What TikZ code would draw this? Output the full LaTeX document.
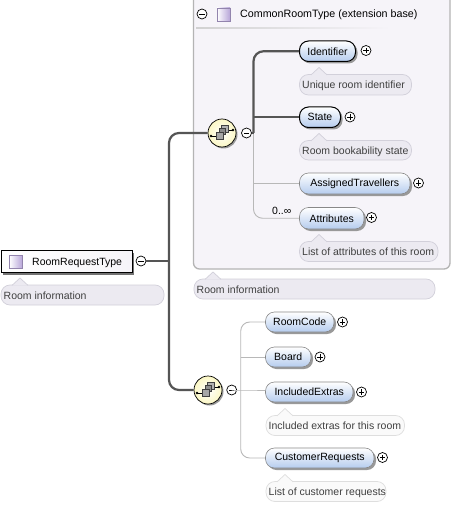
\documentclass[tikz,border=0pt]{standalone}
\usepackage{fontspec}
\setmainfont{Liberation Sans}
\usetikzlibrary{calc}
\definecolor{thinline}{HTML}{B8B8B8}
\definecolor{thickline}{HTML}{555555}
\definecolor{basefill}{HTML}{F6F4F9}
\definecolor{baseedge}{HTML}{B4B4B4}
\definecolor{notefill}{HTML}{ECEAF1}
\definecolor{noteline}{HTML}{D2D0DA}
\definecolor{lightfill}{HTML}{FAFAFA}
\definecolor{lightline}{HTML}{DEDEDE}
\definecolor{elemblue}{HTML}{B5CCEE}
\definecolor{shadowc}{HTML}{999999}
\definecolor{seqfill}{HTML}{FBF7C4}
\definecolor{iconlo}{HTML}{B7A5D8}
\tikzset{
  x=1pt,y=-1pt,
  txt/.style={font=\fontsize{10.5}{13}\selectfont,text=black},
  titletxt/.style={font=\fontsize{10.7}{13}\selectfont,text=black},
  notetxt/.style={font=\fontsize{10.5}{12}\selectfont,text=black!75},
  elembox/.style={rounded corners=9pt,draw=thickline!70,line width=0.6pt,top color=white,bottom color=elemblue,inner sep=0pt,txt},
  strongbox/.style={elembox,draw=black,line width=1pt},
  plainnote/.style={fill=notefill,draw=noteline},
  paleNote/.style={fill=lightfill,draw=lightline},
  circ/.style={circle,draw=black,fill=white,line width=0.7pt,minimum size=10pt,inner sep=0pt},
  thinconn/.style={draw=thinline,line width=0.9pt,rounded corners=9pt},
  thickconn/.style={draw=thickline,line width=2.2pt,rounded corners=10pt},
}
% #1 style, #2 name, #3 x1, #4 y1, #5 x2, #6 y2, #7 text
\newcommand{\elemnode}[7][elembox]{%
  \fill[shadowc,rounded corners=9pt] (#3+2,#4+2) rectangle (#5+2,#6+2);
  \path let \p1=($(#5,#6)-(#3,#4)$) in
    node[#1,minimum width=\x1,minimum height=-\y1] (#2) at ({(#3+#5)/2},{(#4+#6)/2}) {\raisebox{-0.5pt}{#7}};
}
% #1 style, #2 name, #3 x1, #4 y1, #5 x2, #6 y2, #7 tip x, #8 text
\newcommand{\notenode}[8][plainnote]{%
  \draw[#1,line width=0.7pt,rounded corners=9pt] (#3,#4) rectangle (#5,#6);
  \draw[#1,line width=0.7pt,line join=round] (#7-8,#4+0.4) -- (#7,#4-7) -- (#7+8,#4+0.4);
  \fill[#1,draw=none] (#7-7.4,#4+1) rectangle (#7+7.4,#4+1.5);
  \node[notetxt,anchor=base west,inner sep=0pt] (#2) at (#3+2.5,{(#4+#6)/2+4}) {#8};
}
\newcommand{\minusnode}[3]{%
  \node[circ] (#1) at (#2,#3) {};
  \draw[black,line width=0.8pt] (#2-2.6,#3) -- (#2+2.6,#3);
}
\newcommand{\plusnode}[3]{%
  \node[circ] (#1) at (#2,#3) {};
  \draw[black,line width=0.8pt] (#2-2.6,#3) -- (#2+2.6,#3) (#2,#3-2.6) -- (#2,#3+2.6);
}
\newcommand{\iconnode}[5]{%
  \node[draw=iconlo!80!black,line width=0.5pt,left color=white,right color=iconlo,minimum width=#4,minimum height=#5,inner sep=0pt] (#1) at (#2,#3) {};
}
\newcommand{\seqnode}[3]{%
  \fill[shadowc] (#2+1.5,#3+1.5) circle (14);
  \node[circle,draw=black,line width=0.7pt,inner color=white,outer color=seqfill,minimum size=28pt,inner sep=0pt] (#1) at (#2,#3) {};
  \begin{scope}[shift={(#2,#3)}]
    \draw[black,line width=0.9pt] (-11,3) -- (-4,3) (4,-3) -- (11,-3);
    \fill[black] (-11,3) circle (1.3) (11,-3) circle (1.3);
    \draw[black!75,fill=black!30,line width=0.5pt] (-1,-8) rectangle (6,-1);
    \draw[black!75,fill=black!45,line width=0.5pt] (-3,-5) rectangle (3,1);
    \draw[black!75,fill=black!35,line width=0.5pt] (-6,-1) rectangle (1,6);
  \end{scope}
}
\begin{document}
\begin{tikzpicture}
\useasboundingbox (0,0) rectangle (453,505);
\fill[white] (0,0) rectangle (453,505);
% extension base box
\draw[baseedge,fill=basefill,line width=1.3pt,rounded corners=6pt] (193.5,-8) -- (450,-8) -- (450,269) -- (193.5,269) -- cycle;
\fill[left color=black!18,right color=basefill] (196,27.5) rectangle (390,29);
\minusnode{baseminus}{202}{14}
\iconnode{baseicon}{223.5}{14.5}{13pt}{13pt}
\node[titletxt,anchor=base west,inner sep=0pt] (basetitle) at (240,18) {CommonRoomType (extension base)};
% connector anchors
\coordinate (jtop) at (253.5,133);
\coordinate (jtrunk) at (169,261);
\coordinate (jbot) at (240.7,390);
% notes
\notenode{notebase}{194}{279}{435}{299}{213}{Room information}
\notenode{noteroot}{1}{285}{164}{305}{20}{Room information}
\notenode{noteid}{299.5}{74.5}{411.5}{95}{319}{Unique room identifier}
\notenode{notestate}{299.5}{140.5}{411.5}{160}{319}{Room bookability state}
\notenode{noteattr}{299.5}{241.5}{438}{261.5}{319}{List of attributes of this room}
\notenode[paleNote]{noteextras}{266}{415.5}{404.5}{435.5}{285}{Included extras for this room}
\notenode[paleNote]{notecust}{266}{481.5}{386}{501.5}{285}{List of customer requests}
% elements
\elemnode[strongbox]{identifier}{299.5}{41}{355.5}{61.5}{Identifier}
\elemnode[strongbox]{state}{299.5}{107}{340.5}{127.5}{State}
\elemnode{assigned}{299.5}{173}{410}{194}{AssignedTravellers}
\elemnode{attributes}{299.5}{207.5}{364}{229}{Attributes}
\elemnode{roomcode}{265.5}{312}{334}{332}{RoomCode}
\elemnode{board}{265.5}{347}{311}{367}{Board}
\elemnode{extras}{265.5}{382}{353}{402}{IncludedExtras}
\elemnode{customer}{265.5}{448}{374}{468}{CustomerRequests}
% root
\fill[black!55] (3,252.5) rectangle (134,274.5);
\node[draw=black,line width=1pt,left color=white,right color=basefill,minimum width=131pt,minimum height=22.5pt,inner sep=0pt] (root) at (66.5,261.3) {};
\iconnode{rooticon}{15.7}{261.5}{13pt}{13pt}
\node[txt,anchor=base west,inner sep=0pt] (roottext) at (32,265.5) {RoomRequestType};
% plus / minus
\minusnode{rootminus}{141}{261}
\minusnode{seqoneminus}{246.5}{133}
\minusnode{seqtwominus}{231.7}{390}
\plusnode{plusid}{366}{50.5}
\plusnode{plusstate}{350}{117}
\plusnode{plusassigned}{418.5}{183}
\plusnode{plusattr}{371.5}{217.5}
\plusnode{pluscode}{342.5}{322}
\plusnode{plusboard}{320}{357}
\plusnode{plusextras}{361.5}{392}
\plusnode{pluscust}{382.5}{457.5}
% sequence compositors
\seqnode{seqone}{222}{133}
\seqnode{seqtwo}{208}{390}
% connectors
\draw[thinconn] (jtop) |- (attributes.west);
\draw[thinconn] (jtop |- assigned.west) -- (assigned.west);
\draw[thinconn] (roomcode.west) -| (jbot |- extras.west) |- (customer.west);
\draw[thinconn] (seqtwominus.east) -- (jbot) -- (jbot -| extras.west);
\draw[thinconn] (jbot |- board.west) -- (board.west);
\draw[thickconn] (seqoneminus.east) -- (jtop);
\draw[thickconn] (jtop) |- (identifier.west);
\draw[thickconn] (jtop |- state.west) -- (state.west);
\draw[thickconn] (rootminus.east) -- (jtrunk);
\draw[thickconn] (seqone.west) -| (jtrunk) |- (seqtwo.west);
\node[txt,anchor=base west,inner sep=0pt] (occurs) at (272,214.5) {0..∞};
\end{tikzpicture}
\end{document}
